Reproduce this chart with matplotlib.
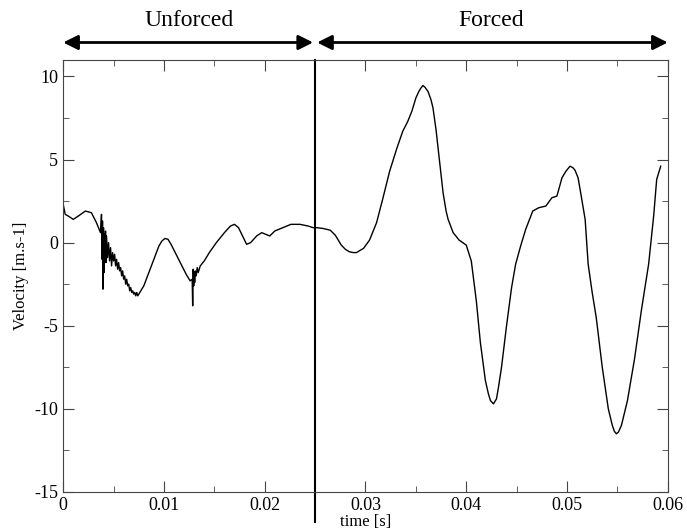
import matplotlib.pyplot as plt
from matplotlib.ticker import MultipleLocator

# time [s] and velocity [m/s]
time = [
    0.0, 0.0002, 0.0005, 0.001, 0.0015, 0.0022, 0.0028, 0.0033, 0.0037,
    0.0038, 0.00385, 0.0039, 0.00395, 0.0040, 0.00405, 0.0041, 0.00415,
    0.0042, 0.00425, 0.0043, 0.0044, 0.0045, 0.0046, 0.0047, 0.0048,
    0.0049, 0.0050, 0.0051, 0.0052, 0.0053, 0.0054, 0.0055, 0.0056,
    0.0057, 0.0058, 0.0059, 0.0060, 0.0061, 0.0062, 0.0063, 0.0064,
    0.0065, 0.0066, 0.0067, 0.0068, 0.0069, 0.0070, 0.0071, 0.0072,
    0.0073, 0.0074, 0.0075, 0.0077, 0.0080, 0.0085, 0.0090, 0.0095,
    0.0098, 0.0101, 0.0104, 0.0107, 0.0112, 0.0117, 0.0122, 0.0126,
    0.0128, 0.01285, 0.0129, 0.01295, 0.0130, 0.01305, 0.0131, 0.0132,
    0.0133, 0.0134, 0.0136, 0.0140, 0.0145, 0.0152, 0.0160, 0.0166,
    0.0170, 0.0174, 0.0178, 0.0182, 0.0186, 0.0192, 0.0197, 0.0201,
    0.0205, 0.0210, 0.0218, 0.0226, 0.0235, 0.0243, 0.0248, 0.0252,
    0.0258, 0.0265, 0.0270, 0.0276, 0.0280, 0.0284, 0.0288, 0.0291,
    0.0295, 0.0298, 0.0304, 0.0311, 0.0317, 0.0324, 0.0331, 0.0337,
    0.0342, 0.0346, 0.0350, 0.0353, 0.0355, 0.0357, 0.0359, 0.0362,
    0.0365, 0.0367, 0.0370, 0.0372, 0.0375, 0.0377, 0.0380, 0.0382,
    0.0387, 0.0393, 0.0400, 0.0405, 0.0410, 0.0414, 0.0419, 0.0422,
    0.0424, 0.0427, 0.0430, 0.0432, 0.0435, 0.0440, 0.0445, 0.0449,
    0.0454, 0.0459, 0.0466, 0.0472, 0.0479, 0.0485, 0.0490, 0.0495,
    0.0499, 0.0503, 0.0506, 0.0508, 0.0511, 0.0513, 0.0518, 0.0521,
    0.0525, 0.0529, 0.0535, 0.0541, 0.0545, 0.0547, 0.0549, 0.0551,
    0.0554, 0.0560, 0.0567, 0.0574, 0.0581, 0.0586, 0.0589, 0.0593,
]
velocity = [
    2.3, 1.7, 1.6, 1.4, 1.6, 1.9, 1.8, 1.2, 0.6,
    1.7, -1.0, 1.3, -2.8, 0.9, -1.8, 0.5, -0.8,
    0.7, -1.2, 0.4, -0.9, 0.0, -1.1, -0.3, -1.4,
    -0.6, -1.1, -0.7, -1.4, -1.0, -1.6, -1.2, -1.7,
    -1.5, -2.0, -1.7, -2.2, -2.0, -2.5, -2.2, -2.6,
    -2.5, -2.9, -2.7, -3.0, -2.9, -3.1, -3.0, -3.2,
    -3.0, -3.2, -3.1, -2.9, -2.6, -1.8, -1.0, -0.2,
    0.1, 0.25, 0.2, -0.1, -0.7, -1.3, -1.9, -2.3,
    -2.2, -3.8, -1.6, -2.6, -1.8, -2.4, -1.7, -2.0,
    -1.5, -1.8, -1.4, -1.1, -0.6, 0.0, 0.6, 1.0,
    1.1, 0.9, 0.4, -0.1, 0.0, 0.4, 0.6, 0.5,
    0.4, 0.7, 0.9, 1.1, 1.1, 1.0, 0.9, 0.9,
    0.85, 0.75, 0.45, -0.15, -0.4, -0.55, -0.6, -0.6,
    -0.45, -0.35, 0.15, 1.2, 2.6, 4.3, 5.65, 6.7,
    7.3, 7.9, 8.7, 9.1, 9.3, 9.45, 9.35, 9.1,
    8.6, 8.1, 6.8, 5.7, 4.1, 3.0, 1.9, 1.4,
    0.6, 0.15, -0.15, -1.1, -3.5, -6.0, -8.3, -9.1,
    -9.5, -9.7, -9.4, -8.7, -7.5, -5.0, -2.7, -1.3,
    -0.2, 0.8, 1.9, 2.1, 2.2, 2.7, 2.8, 3.9,
    4.3, 4.6, 4.5, 4.35, 3.9, 3.2, 1.4, -1.3,
    -3.0, -4.5, -7.5, -10.0, -11.0, -11.35, -11.5, -11.4,
    -11.0, -9.5, -7.0, -4.0, -1.3, 1.6, 3.8, 4.6,
]
t_switch = 0.025
t_end = 0.06

plt.rcParams['font.family'] = ['Liberation Serif', 'DejaVu Serif']
plt.rcParams['axes.unicode_minus'] = False

fig = plt.figure(figsize=(6.87, 5.29), dpi=100)
ax = fig.add_axes([0.092, 0.07, 0.88, 0.817])

ax.plot(time, velocity, color='black', lw=1)

ax.set_xlim(0, t_end)
ax.set_ylim(-15, 11)
ax.xaxis.set_major_locator(MultipleLocator(0.01))
ax.xaxis.set_minor_locator(MultipleLocator(0.005))
ax.yaxis.set_major_locator(MultipleLocator(5))
ax.yaxis.set_minor_locator(MultipleLocator(2.5))
ax.set_xticks([0, 0.01, 0.02, 0.03, 0.04, 0.05, 0.06])
ax.set_xticklabels(['0', '0.01', '0.02', '0.03', '0.04', '0.05', '0.06'])
ax.tick_params(which='both', direction='in', top=True, right=True,
               labelsize=13, color='#444444')
ax.tick_params(which='major', length=8)
ax.tick_params(which='minor', length=4)
for s in ax.spines.values():
    s.set_color('#444444')

ax.set_xlabel('time [s]', fontsize=12, labelpad=0)
ax.set_ylabel('Velocity [m.s-1]', fontsize=12, labelpad=4)

# separator between the two regimes
ax.axvline(t_switch, ymin=-0.07, ymax=1, color='black', lw=1.5, clip_on=False)

# regime arrows and labels
trans = ax.get_xaxis_transform()
arrow = dict(arrowstyle='<|-|>', color='black', lw=2,
             mutation_scale=22, shrinkA=0, shrinkB=0)
ax.annotate('', xy=(0, 1.04), xytext=(t_switch - 0.0002, 1.04),
            xycoords=trans, textcoords=trans, arrowprops=arrow,
            annotation_clip=False)
ax.annotate('', xy=(t_switch + 0.0002, 1.04), xytext=(t_end, 1.04),
            xycoords=trans, textcoords=trans, arrowprops=arrow,
            annotation_clip=False)
ax.text(t_switch / 2, 1.09, 'Unforced', transform=trans,
        ha='center', va='center', fontsize=17)
ax.text((t_switch + t_end) / 2, 1.09, 'Forced', transform=trans,
        ha='center', va='center', fontsize=17)

fig.savefig('out.png', dpi=100)
